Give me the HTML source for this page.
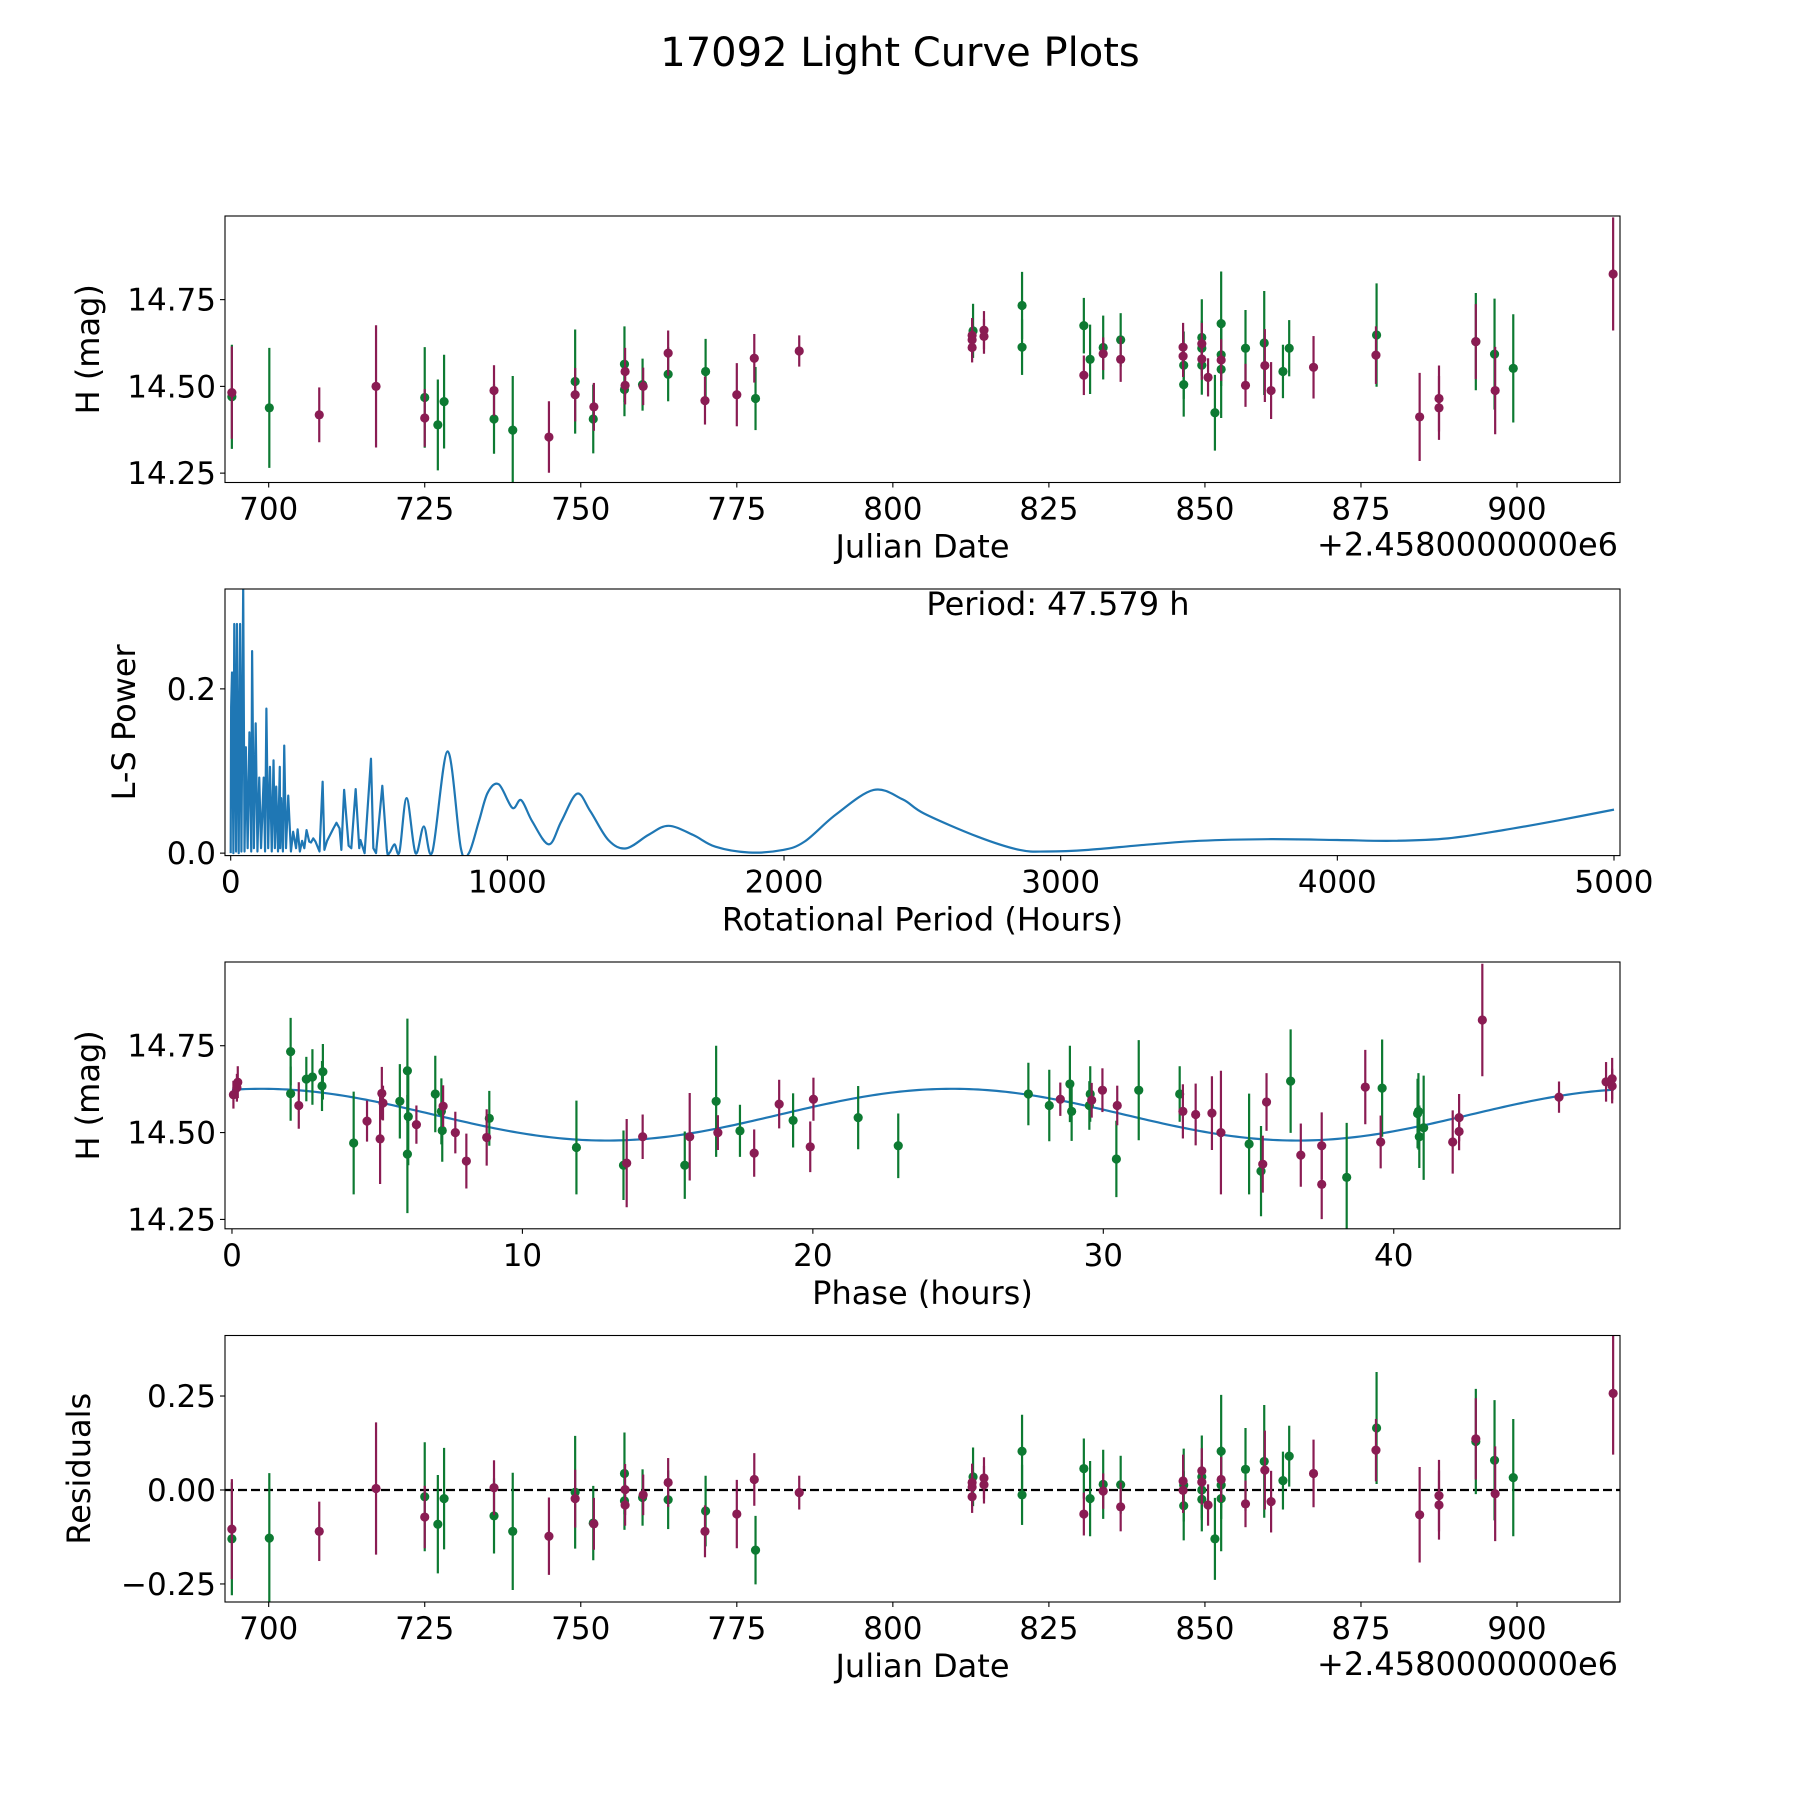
<!DOCTYPE html>
<html><head><meta charset="utf-8"><title>17092 Light Curve Plots</title>
<style>
html,body{margin:0;padding:0;background:#fff;}
svg{display:block;font-family:"DejaVu Sans","Liberation Sans",sans-serif;}
</style></head>
<body>
<svg id="fig" width="1800" height="1800" viewBox="0 0 1800 1800" xmlns="http://www.w3.org/2000/svg">
<rect x="0" y="0" width="1800" height="1800" fill="#fff"/>
<text x="900" y="66" font-size="40" text-anchor="middle">17092 Light Curve Plots</text>
</svg>
<script>
// ---------- Panel 1 / 4 data (Julian Date offset from 2458000) ----------
const jd = [694.1,694.1,700.1,708.1,717.2,725.0,725.0,727.1,728.1,736.1,736.1,739.1,744.9,749.1,749.1,752.1,752.0,757.0,757.0,757.1,757.1,759.9,760.0,764.0,764.0,770.0,769.9,775.0,777.8,778.0,785.0,
812.85,812.7,812.7,812.7,814.6,814.6,820.7,820.7,830.6,830.6,831.6,833.7,833.7,836.5,836.5,846.5,846.5,846.6,846.6,849.5,849.5,849.5,849.5,849.5,850.5,851.6,852.6,852.6,852.6,852.6,856.5,856.5,859.5,859.6,860.6,862.5,863.5,867.4,877.5,877.4,884.4,887.5,887.5,893.4,893.4,896.4,896.5,899.4,915.4];
const mag = [14.470,14.482,14.438,14.418,14.500,14.468,14.409,14.389,14.456,14.488,14.406,14.374,14.354,14.514,14.476,14.441,14.406,14.564,14.491,14.543,14.503,14.505,14.500,14.596,14.535,14.543,14.459,14.476,14.581,14.465,14.602,
14.660,14.647,14.634,14.612,14.662,14.644,14.733,14.613,14.675,14.532,14.578,14.612,14.594,14.634,14.578,14.613,14.587,14.561,14.505,14.641,14.623,14.610,14.579,14.561,14.526,14.424,14.681,14.591,14.576,14.549,14.610,14.503,14.625,14.560,14.488,14.543,14.610,14.555,14.648,14.590,14.412,14.465,14.438,14.629,14.629,14.593,14.488,14.552,14.824];
const magErr = [0.150,0.133,0.173,0.079,0.176,0.145,0.083,0.131,0.135,0.073,0.100,0.156,0.103,0.150,0.077,0.069,0.099,0.109,0.077,0.068,0.055,0.075,0.054,0.065,0.078,0.094,0.069,0.091,0.070,0.091,0.045,
0.078,0.050,0.050,0.043,0.055,0.050,0.097,0.080,0.080,0.057,0.100,0.092,0.047,0.077,0.065,0.070,0.060,0.097,0.092,0.110,0.060,0.080,0.060,0.085,0.055,0.109,0.150,0.090,0.060,0.140,0.110,0.062,0.150,0.105,0.082,0.077,0.081,0.090,0.149,0.083,0.127,0.095,0.092,0.140,0.108,0.160,0.126,0.156,0.163];
const band = ['g','m','g','m','m','g','m','g','g','m','g','g','m','g','m','m','g','g','g','m','m','g','m','m','g','g','m','m','m','g','m',
'g','m','m','m','m','m','g','g','g','m','g','g','m','g','m','m','m','g','g','g','m','g','m','g','m','g','g','g','m','g','g','m','g','m','m','g','g','m','g','m','m','m','m','g','m','g','m','g','m'];
const resid = [-0.130,-0.104,-0.128,-0.110,0.004,-0.018,-0.072,-0.091,-0.023,0.006,-0.069,-0.110,-0.123,-0.006,-0.023,-0.090,-0.088,0.044,-0.029,0.001,-0.040,-0.020,-0.013,0.020,-0.026,-0.056,-0.110,-0.064,0.028,-0.160,-0.007,
0.035,0.020,0.008,-0.018,0.032,0.014,0.103,-0.013,0.057,-0.064,-0.023,0.015,-0.003,0.014,-0.045,0.024,-0.001,0.013,-0.042,0.035,0.051,0.000,0.021,-0.025,-0.040,-0.130,0.103,0.013,0.028,-0.023,0.055,-0.037,0.076,0.053,-0.031,0.025,0.090,0.044,0.165,0.106,-0.066,-0.015,-0.040,0.129,0.136,0.079,-0.010,0.033,0.257];

// ---------- Panel 2 data (Lomb-Scargle periodogram) ----------
const lsPeriod = [0,1.6,4.8,9.7,12.9,19.4,22.6,29.0,33.9,38.7,45.2,50.0,54.8,61.3,67.7,74.2,77.4,83.9,90.3,96.7,103.2,109.7,119.3,124.2,129.0,135.5,141.9,148.4,154.8,159.7,164.5,171.0,177.4,179.0,182.2,188.7,193.5,199.9,208.0,217.7,225.8,236.3,241.9,250.0,258.0,266.1,274.2,283.9,290.3,298.4,306.5,321.0,332.3,338.7,348.4,371.0,382.3,393.6,400.0,410.0,426.2,436.0,451.7,464.6,468.9,484.0,507.0,515.6,525.3,548.0,564.1,574,592,610,636,668,698,729,784,832,861,897,929,969,1018,1050,1090,1150,1195,1252,1300,1365,1429,1510,1582,1671,1752,1873,1994,2074,2187,2324,2429,2507,2700,2850,2950,3100,3300,3500,3750,4000,4200,4400,4600,4800,5000];
const lsPower = [0,0.178,0.220,0,0.279,0.002,0.279,0,0.279,0.002,0.326,0.002,0.129,0.006,0.147,0.002,0.246,0.006,0.158,0.002,0.092,0.006,0.092,0.002,0.176,0.006,0.105,0.002,0.113,0.006,0.081,0.002,0.105,0.006,0.067,0.002,0.131,0.006,0.070,0.002,0.026,0.006,0.029,0.002,0.015,0.006,0.028,0.014,0.013,0.018,0.014,0.002,0.087,0.004,0.015,0.030,0.037,0.030,0.004,0.077,0.009,0.006,0.078,0.006,0.016,0.000,0.115,0.006,0.000,0.082,0.006,0.0004,0.0107,0.0016,0.067,0.000,0.0325,0.0016,0.124,0.0058,0.000,0.0386,0.0736,0.0838,0.0551,0.0645,0.0386,0.0107,0.0386,0.0724,0.0510,0.0160,0.0058,0.0222,0.0333,0.0222,0.0078,0.0008,0.0037,0.0140,0.0469,0.0769,0.0654,0.0481,0.020,0.004,0.002,0.004,0.010,0.015,0.017,0.016,0.015,0.018,0.028,0.040,0.053];
const bestPeriodText = "Period: 47.579 h";

// ---------- Panel 3 data (phase folded) ----------
const phase = [0.05,0.17,0.20,2.02,2.02,2.30,2.56,2.77,3.13,3.10,4.19,4.65,5.10,5.16,5.20,5.78,6.04,6.07,6.04,6.35,7.00,7.21,7.27,7.24,7.69,8.07,8.77,8.86,11.86,13.48,13.59,14.14,15.59,15.76,16.67,16.73,17.49,17.98,18.84,19.32,19.91,20.02,21.56,22.94,
27.42,28.14,28.52,28.85,28.91,29.55,29.52,29.60,29.97,30.48,30.45,31.22,32.63,32.74,33.18,33.74,34.05,35.02,35.49,35.43,35.62,36.45,36.80,37.52,37.52,38.38,39.02,39.55,39.60,40.85,40.88,40.82,41.03,42.03,42.25,42.25,43.05,45.69,47.31,47.52,47.52];
const phMag = [14.609,14.629,14.645,14.733,14.612,14.578,14.654,14.660,14.675,14.634,14.470,14.533,14.482,14.613,14.585,14.590,14.678,14.546,14.438,14.523,14.611,14.561,14.576,14.506,14.500,14.418,14.486,14.541,14.457,14.406,14.412,14.488,14.406,14.488,14.590,14.500,14.505,14.441,14.582,14.535,14.459,14.596,14.543,14.462,
14.611,14.578,14.596,14.640,14.561,14.611,14.578,14.593,14.622,14.578,14.424,14.622,14.611,14.561,14.552,14.556,14.500,14.467,14.409,14.389,14.588,14.648,14.435,14.462,14.351,14.371,14.631,14.473,14.628,14.561,14.488,14.555,14.514,14.473,14.543,14.503,14.824,14.602,14.646,14.655,14.634];
const phErr = [0.040,0.040,0.046,0.097,0.078,0.067,0.064,0.080,0.080,0.072,0.148,0.059,0.130,0.076,0.050,0.107,0.150,0.140,0.170,0.055,0.110,0.095,0.060,0.090,0.060,0.079,0.081,0.079,0.135,0.100,0.127,0.064,0.097,0.126,0.160,0.050,0.075,0.068,0.070,0.078,0.073,0.062,0.091,0.093,
0.090,0.103,0.048,0.110,0.085,0.080,0.070,0.050,0.063,0.057,0.110,0.144,0.080,0.078,0.089,0.106,0.178,0.145,0.082,0.130,0.083,0.149,0.091,0.096,0.100,0.157,0.107,0.076,0.140,0.110,0.090,0.100,0.150,0.091,0.068,0.054,0.162,0.045,0.057,0.060,0.050];
const phBand = ['m','m','m','g','g','m','g','g','g','g','g','m','m','m','m','g','g','g','g','m','g','g','m','g','m','m','m','g','g','g','m','m','g','m','g','m','g','m','m','g','m','m','g','g',
'g','g','m','g','g','g','g','m','m','m','g','g','g','m','m','m','m','g','m','g','m','g','m','m','m','g','m','m','g','g','g','g','g','m','m','m','m','m','m','m','m'];
const modelMean = 14.5515, modelAmp = 0.0745, modelPeak = 1.0, modelHalfPeriod = 23.79, period = 47.579;

const NS = 'http://www.w3.org/2000/svg';
const svg = document.getElementById('fig');
const COL = {g:'#0d7a32', m:'#8a1c53'};
function mk(tag, attrs, parent){ const e=document.createElementNS(NS,tag); for(const k in attrs) e.setAttribute(k,attrs[k]); (parent||svg).appendChild(e); return e; }

const L=225, R=1620;
const panels = [
  {top:216, bot:482.5, x0:693.0, x1:916.5, y0:14.223, y1:14.991},
  {top:589, bot:855.6, x0:-20.6, x1:5021.7, y0:-0.003, y1:0.3216},
  {top:962, bot:1228.8, x0:-0.24, x1:47.79, y0:14.223, y1:14.991},
  {top:1335.5, bot:1602, x0:693.0, x1:916.5, y0:-0.298, y1:0.411}
];
function sx(p,v){ return L + (v-p.x0)/(p.x1-p.x0)*(R-L); }
function sy(p,v){ return p.bot - (v-p.y0)/(p.y1-p.y0)*(p.bot-p.top); }
function fmtMinus(s){ return s.replace('-','\u2212'); }

function axes(i, name, xt, xtl, yt, ytl, xlabel, ylabel, ylabelX, offsetText){
  const p=panels[i];
  const g=mk('g',{});
  
  
  const cp=mk('clipPath',{id:'clip'+i},g);
  mk('rect',{x:L,y:p.top,width:R-L,height:p.bot-p.top},cp);
  xt.forEach((v,k)=>{
    const x=sx(p,v);
    mk('line',{x1:x,x2:x,y1:p.bot,y2:p.bot+5,stroke:'#000','stroke-width':1.1},g);
    const t=mk('text',{x:x,y:p.bot+37,'font-size':31,'text-anchor':'middle'},g);
    t.textContent=xtl[k];
    
    
  });
  yt.forEach((v,k)=>{
    const y=sy(p,v);
    mk('line',{x1:L-5,x2:L,y1:y,y2:y,stroke:'#000','stroke-width':1.1},g);
    const t=mk('text',{x:L-9,y:y+11,'font-size':31,'text-anchor':'end'},g);
    t.textContent=ytl[k];
    
    
  });
  const xl=mk('text',{x:(L+R)/2,y:p.bot+75,'font-size':32,'text-anchor':'middle'},g);
  xl.textContent=xlabel;
  
  
  const cy=(p.top+p.bot)/2;
  const yl=mk('text',{x:ylabelX,y:cy,'font-size':32,'text-anchor':'middle',transform:`rotate(-90 ${ylabelX} ${cy})`},g);
  yl.textContent=ylabel;
  
  
  if(offsetText){
    const o=mk('text',{x:R-2,y:p.bot+73,'font-size':32,'text-anchor':'end'},g);
    o.textContent=offsetText;
    
    
  }
  return g;
}
function frame(i){
  const p=panels[i];
  const f=mk('rect',{x:L,y:p.top,width:R-L,height:p.bot-p.top,fill:'none',stroke:'#000','stroke-width':1.1});
  
  
}
function errorbars(i, xs, ys, es, bs, name){
  const p=panels[i];
  const g=mk('g',{'clip-path':`url(#clip${i})`});
  
  
  ['g','m'].forEach(b=>{
    xs.forEach((xv,k)=>{
      if(bs[k]!==b) return;
      const x=sx(p,xv);
      const l=mk('line',{x1:x,x2:x,y1:sy(p,ys[k]+es[k]),y2:sy(p,ys[k]-es[k]),stroke:COL[b],'stroke-width':2.2},g);
      
      
      const c=mk('circle',{cx:x,cy:sy(p,ys[k]),r:4.6,fill:COL[b]},g);
      
      
    });
  });
}

const jdTicks=[700,725,750,775,800,825,850,875,900];
const jdLabels=jdTicks.map(String);
axes(0,'light-curve-axes',jdTicks,jdLabels,[14.25,14.5,14.75],['14.25','14.50','14.75'],'Julian Date','H (mag)',99,'+2.4580000000e6');
errorbars(0,jd,mag,magErr,band,'light-curve-points');
frame(0);

axes(1,'periodogram-axes',[0,1000,2000,3000,4000,5000],['0','1000','2000','3000','4000','5000'],[0,0.2],['0.0','0.2'],'Rotational Period (Hours)','L-S Power',135,null);
(function(){
  const p=panels[1];
  const pts=lsPeriod.map((v,k)=>[sx(p,v),sy(p,lsPower[k])]);
  let d='M'+pts[0][0].toFixed(2)+','+pts[0][1].toFixed(2);
  for(let k=1;k<pts.length;k++){
    if(lsPeriod[k]<=564.1){ d+='L'+pts[k][0].toFixed(2)+','+pts[k][1].toFixed(2); continue; }
    const p0=pts[Math.max(k-2,0)], p1=pts[k-1], p2=pts[k], p3=pts[Math.min(k+1,pts.length-1)];
    const c1x=p1[0]+(p2[0]-p0[0])/6, c1y=p1[1]+(p2[1]-p0[1])/6;
    const c2x=p2[0]-(p3[0]-p1[0])/6, c2y=p2[1]-(p3[1]-p1[1])/6;
    d+='C'+c1x.toFixed(2)+','+c1y.toFixed(2)+' '+c2x.toFixed(2)+','+c2y.toFixed(2)+' '+p2[0].toFixed(2)+','+p2[1].toFixed(2);
  }
  const path=mk('path',{d:d,fill:'none',stroke:'#1f77b4','stroke-width':2.2,'stroke-linejoin':'round','clip-path':'url(#clip1)'});
  
  
  const t=mk('text',{x:1058,y:615,'font-size':32,'text-anchor':'middle'});
  t.textContent=bestPeriodText;
  
  
})();
frame(1);

axes(2,'phase-fold-axes',[0,10,20,30,40],['0','10','20','30','40'],[14.25,14.5,14.75],['14.25','14.50','14.75'],'Phase (hours)','H (mag)',99,null);
(function(){
  const p=panels[2];
  let d='';
  const n=300;
  for(let k=0;k<=n;k++){
    const ph=k/n*period;
    const v=modelMean+modelAmp*Math.cos(2*Math.PI*(ph-modelPeak)/modelHalfPeriod);
    d+=(k?'L':'M')+sx(p,ph).toFixed(2)+','+sy(p,v).toFixed(2);
  }
  const path=mk('path',{d:d,fill:'none',stroke:'#1f77b4','stroke-width':2.2,'clip-path':'url(#clip2)'});
  
  
})();
errorbars(2,phase,phMag,phErr,phBand,'phase-points');
frame(2);

axes(3,'residuals-axes',jdTicks,jdLabels,[-0.25,0,0.25],[fmtMinus('-0.25'),'0.00','0.25'],'Julian Date','Residuals',90,'+2.4580000000e6');
(function(){
  const p=panels[3];
  const y=sy(p,0);
  const l=mk('line',{x1:L,x2:R,y1:y,y2:y,stroke:'#000','stroke-width':2.2,'stroke-dasharray':'9,4'});
  
  
})();
errorbars(3,jd,resid,magErr,band,'residual-points');
frame(3);
</script>
</body></html>
